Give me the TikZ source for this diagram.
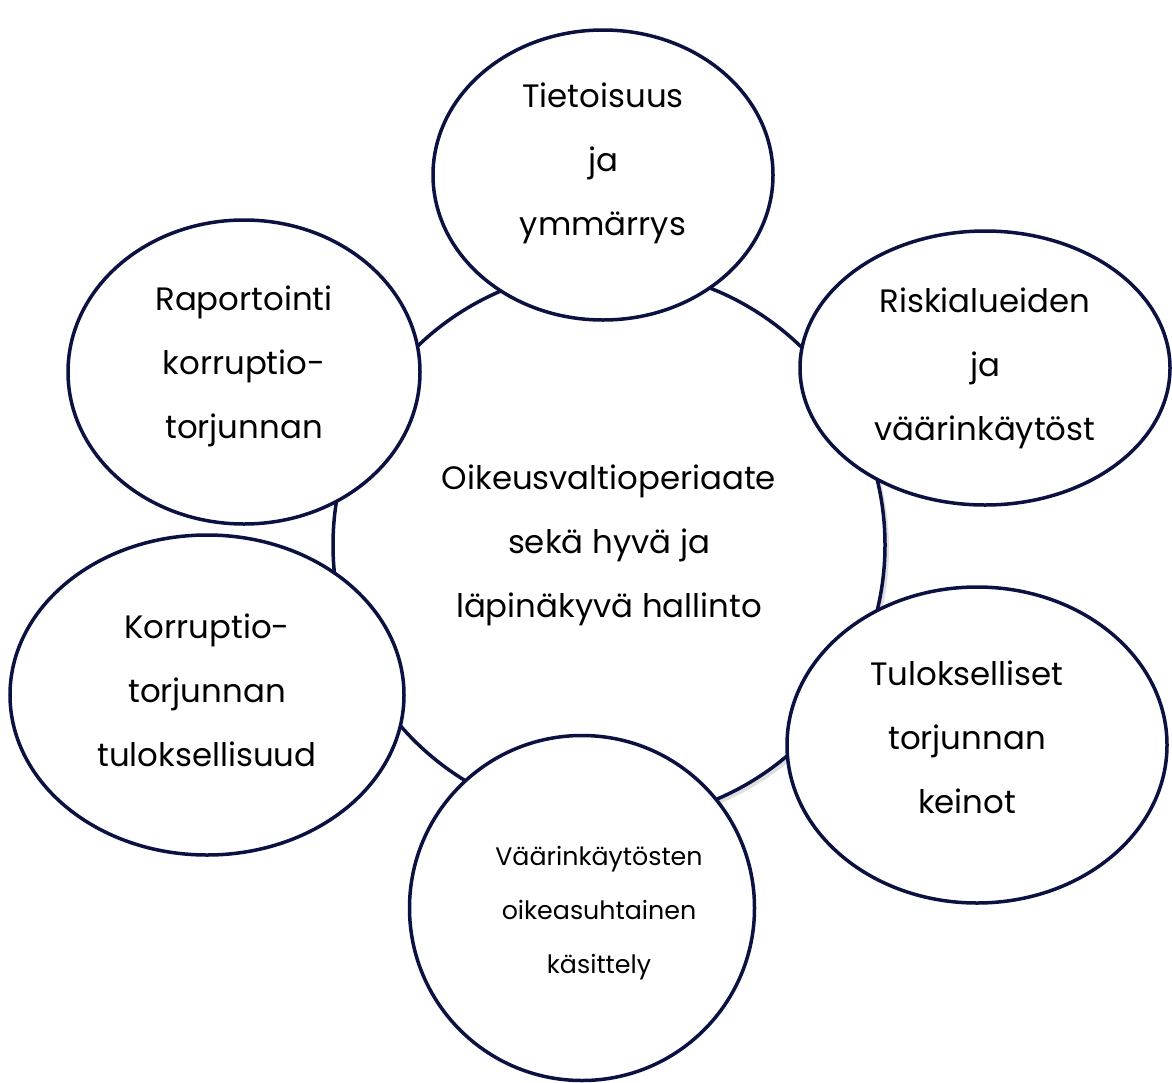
\documentclass[tikz,border=0pt]{standalone}
\usepackage{fontspec}
\setmainfont{Poppins}
\usetikzlibrary{shapes.geometric,shadows}
\definecolor{navy}{HTML}{0B1141}
\newcommand{\bubtxt}{\fontsize{32.4}{64}\selectfont}
\newcommand{\smtxt} {\fontsize{25.3}{54}\selectfont}

\begin{document}
\begin{tikzpicture}[x=1pt,y=-1pt,
   bubble/.style={ellipse,draw=navy,line width=3.5pt,fill=white,inner sep=0pt},
   every label/.style={align=center,font=\bubtxt}]
   \useasboundingbox (0,0) rectangle (1172,1082);
   % centre
   \node[bubble,minimum width=552pt,minimum height=552pt,
         drop shadow={shadow xshift=4pt,shadow yshift=-4pt,opacity=.25},
         label=center:{Oikeusvaltioperiaate\\sekä hyvä ja\\läpinäkyvä hallinto}]
     (hub) at (609,545) {};
   % around
   \node[bubble,minimum width=340pt,minimum height=290pt,
         label={[shift={(0,-12)}]center:{Tietoisuus\\ja\\ymmärrys}}]
     (tieto) at (603,175) {};
   \node[bubble,minimum width=370pt,minimum height=274pt,
         label=center:{Riskialueiden\\ja\\väärinkäytöst}]
     (riski) at (985,368) {};
   \node[bubble,minimum width=352pt,minimum height=304pt,
         label={[shift={(0,-6)}]center:{Raportointi\\korruptio-\\torjunnan}}]
     (rapo) at (244,372) {};
   \node[bubble,minimum width=394pt,minimum height=320pt,
         label={[shift={(0,-5)}]center:{Korruptio-\\torjunnan\\tuloksellisuud}}]
     (korr) at (207,695) {};
   \node[bubble,minimum width=380pt,minimum height=316pt,
         label={[shift={(-10,-8)}]center:{Tulokselliset\\torjunnan\\keinot}}]
     (tulo) at (977,745) {};
   \node[bubble,minimum width=345pt,minimum height=345pt,
         label={[shift={(17,5)},font=\smtxt]center:{Väärinkäytösten\\oikeasuhtainen\\käsittely}}]
     (vaar) at (582,908) {};
\end{tikzpicture}
\end{document}
